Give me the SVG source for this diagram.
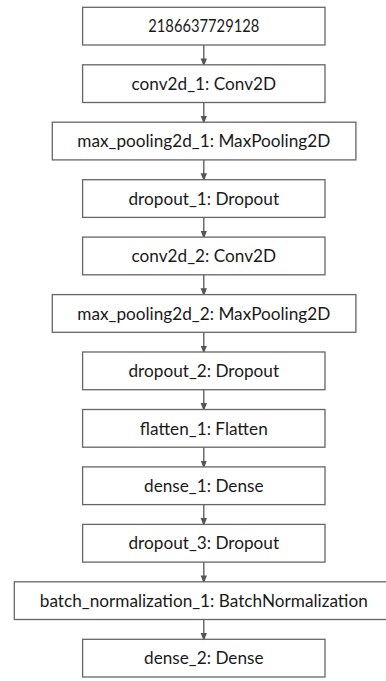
<svg xmlns="http://www.w3.org/2000/svg" width="386" height="681" viewBox="0 0 386 681">
<defs>
<style>
.box{fill:#fff;stroke:#666;stroke-width:1.3}
.lbl{font-family:Lato,"Open Sans","Noto Sans",sans-serif;font-size:17.2px;fill:#1a1a1a;text-anchor:middle}
.edge{stroke:#555;stroke-width:1.3;fill:none}
</style>
<marker id="ah" markerWidth="8" markerHeight="10" refX="8" refY="4" orient="auto" markerUnits="userSpaceOnUse" viewBox="0 0 10 8">
<path d="M0,0 L10,4 L0,8 Z" fill="#555"/>
</marker>
</defs>
<rect width="386" height="681" fill="#fff"/>
<g id="connectors">
<line class="edge" x1="203.8" y1="45" x2="203.8" y2="64.8" marker-end="url(#ah)"/>
<line class="edge" x1="203.8" y1="102.5" x2="203.8" y2="122.2" marker-end="url(#ah)"/>
<line class="edge" x1="203.8" y1="159.9" x2="203.8" y2="179.7" marker-end="url(#ah)"/>
<line class="edge" x1="203.8" y1="217.4" x2="203.8" y2="237.1" marker-end="url(#ah)"/>
<line class="edge" x1="203.8" y1="274.8" x2="203.8" y2="294.6" marker-end="url(#ah)"/>
<line class="edge" x1="203.8" y1="332.3" x2="203.8" y2="352" marker-end="url(#ah)"/>
<line class="edge" x1="203.8" y1="389.7" x2="203.8" y2="409.5" marker-end="url(#ah)"/>
<line class="edge" x1="203.8" y1="447.2" x2="203.8" y2="466.9" marker-end="url(#ah)"/>
<line class="edge" x1="203.8" y1="504.6" x2="203.8" y2="524.4" marker-end="url(#ah)"/>
<line class="edge" x1="203.8" y1="562.1" x2="203.8" y2="581.8" marker-end="url(#ah)"/>
<line class="edge" x1="203.8" y1="619.5" x2="203.8" y2="639.3" marker-end="url(#ah)"/>
</g>
<g id="n0"><rect class="box" x="82.6" y="7.3" width="242.4" height="37.7"/><text class="lbl" x="203.8" y="32.3" textLength="111" lengthAdjust="spacingAndGlyphs">2186637729128</text></g>
<g id="n1"><rect class="box" x="82.6" y="64.8" width="242.4" height="37.7"/><text class="lbl" x="203.8" y="89.8">conv2d_1: Conv2D</text></g>
<g id="n2"><rect class="box" x="52.3" y="122.2" width="303.6" height="37.7"/><text class="lbl" x="203.8" y="147.2">max_pooling2d_1: MaxPooling2D</text></g>
<g id="n3"><rect class="box" x="82.6" y="179.7" width="242.4" height="37.7"/><text class="lbl" x="203.8" y="204.7">dropout_1: Dropout</text></g>
<g id="n4"><rect class="box" x="82.6" y="237.1" width="242.4" height="37.7"/><text class="lbl" x="203.8" y="262.1">conv2d_2: Conv2D</text></g>
<g id="n5"><rect class="box" x="52.3" y="294.6" width="303.6" height="37.7"/><text class="lbl" x="203.8" y="319.6">max_pooling2d_2: MaxPooling2D</text></g>
<g id="n6"><rect class="box" x="82.6" y="352" width="242.4" height="37.7"/><text class="lbl" x="203.8" y="377">dropout_2: Dropout</text></g>
<g id="n7"><rect class="box" x="82.6" y="409.5" width="242.4" height="37.7"/><text class="lbl" x="203.8" y="434.5">flatten_1: Flatten</text></g>
<g id="n8"><rect class="box" x="82.6" y="466.9" width="242.4" height="37.7"/><text class="lbl" x="203.8" y="491.9">dense_1: Dense</text></g>
<g id="n9"><rect class="box" x="82.6" y="524.4" width="242.4" height="37.7"/><text class="lbl" x="203.8" y="549.4">dropout_3: Dropout</text></g>
<g id="n10"><rect class="box" x="14.3" y="581.8" width="379" height="37.7"/><text class="lbl" x="203.8" y="606.8">batch_normalization_1: BatchNormalization</text></g>
<g id="n11"><rect class="box" x="82.6" y="639.3" width="242.4" height="37.7"/><text class="lbl" x="203.8" y="664.3">dense_2: Dense</text></g>
</svg>
